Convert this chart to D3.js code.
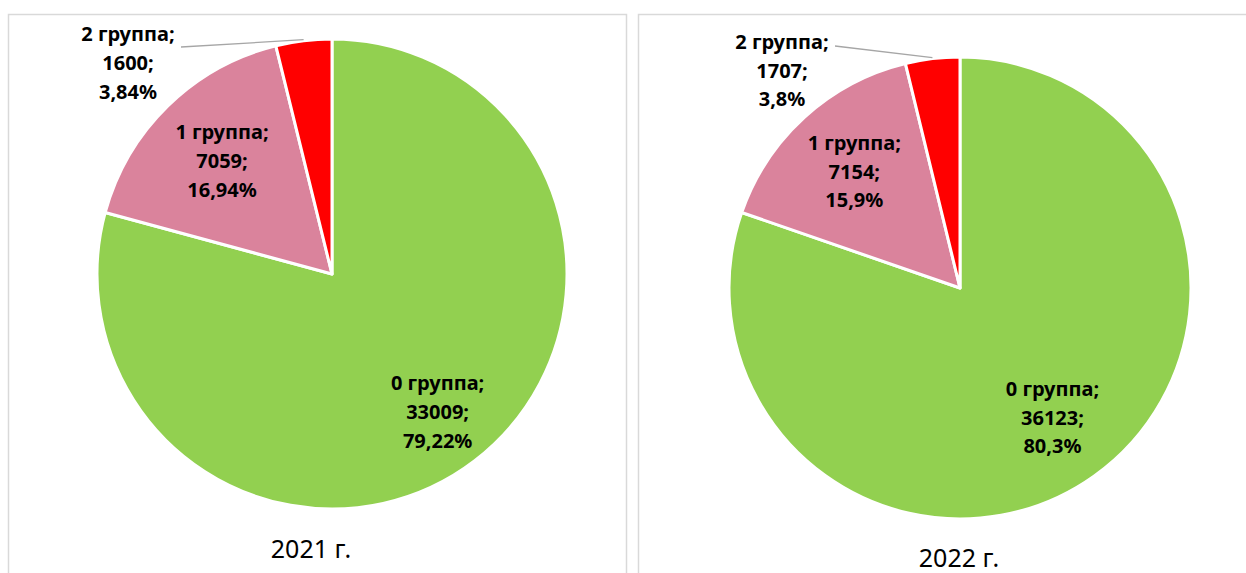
<!DOCTYPE html>
<html><head><meta charset="utf-8">
<script src="https://cdn.jsdelivr.net/npm/d3@7"></script>
<style>
html,body{margin:0;padding:0;background:#fff;}
svg{display:block;}
text{font-family:"Noto Sans","Open Sans",sans-serif;}
</style></head>
<body>
<svg id="c" width="1246" height="573"></svg>
<script>
const categories = ["0 группа", "1 группа", "2 группа"];
const values2021 = [33009, 7059, 1600];
const values2022 = [36123, 7154, 1707];
const pct2021 = ["79,22%", "16,94%", "3,84%"];
const pct2022 = ["80,3%", "15,9%", "3,8%"];
const years = ["2021 г.", "2022 г."];

const colors = d3.scaleOrdinal().domain(categories).range(["#92D050", "#DA839C", "#FF0000"]);
const svg = d3.select("#c");

// panel frames
const panels = [
  {x: 8, y: 14, w: 618, h: 600},
  {x: 638, y: 14, w: 640, h: 600}
];
svg.selectAll("rect.panel").data(panels).join("rect")
  .attr("class", "panel")
  .attr("x", d => d.x + 0.5).attr("y", d => d.y + 0.5)
  .attr("width", d => d.w).attr("height", d => d.h)
  .attr("fill", "none").attr("stroke", "#D9D9D9").attr("stroke-width", 1.5);

const charts = [
  {values: values2021, pcts: pct2021, title: years[0], cx: 332, cy: 274, r: 235, lr: [0.74, 0.67],
   lineGap: 29, titleX: 311, titleY: 549, outLabel: [128, 34], leadStart: [181, 47]},
  {values: values2022, pcts: pct2022, title: years[1], cx: 960, cy: 288, r: 231, lr: [0.69, 0.68],
   lineGap: 28.5, titleX: 959, titleY: 558, outLabel: [782, 42], leadStart: [835, 46]}
];

const pie = d3.pie().sort(null).value(d => d.value);

charts.forEach(ch => {
  const data = categories.map((c, i) => ({cat: c, value: ch.values[i], pct: ch.pcts[i]}));
  const arcs = pie(data);
  const g = svg.append("g").attr("transform", `translate(${ch.cx},${ch.cy})`);
  const arc = d3.arc().innerRadius(0).outerRadius(ch.r);
  const edgeArc = d3.arc().innerRadius(ch.r + 1).outerRadius(ch.r + 1);

  g.selectAll("path.slice").data(arcs).join("path")
    .attr("class", "slice")
    .attr("d", arc)
    .attr("fill", d => colors(d.data.cat))
    .attr("stroke", "#fff").attr("stroke-width", 3).attr("stroke-linejoin", "round");

  arcs.forEach((a, i) => {
    const lines = [a.data.cat + ";", a.data.value + ";", a.data.pct];
    let x, y;
    if (i === arcs.length - 1) {
      // outside label with leader line
      x = ch.outLabel[0] - ch.cx; y = ch.outLabel[1] - ch.cy;
      const e = edgeArc.centroid(a);
      g.append("line")
        .attr("x1", ch.leadStart[0] - ch.cx).attr("y1", ch.leadStart[1] - ch.cy)
        .attr("x2", e[0]).attr("y2", e[1])
        .attr("stroke", "#A6A6A6").attr("stroke-width", 1.3);
    } else {
      const rr = ch.r * ch.lr[i];
      const c = d3.arc().innerRadius(rr).outerRadius(rr).centroid(a);
      x = c[0]; y = c[1] - ch.lineGap;
    }
    const t = g.append("text")
      .attr("text-anchor", "middle")
      .attr("font-weight", "bold").attr("font-size", 20).attr("fill", "#000");
    lines.forEach((ln, k) => {
      t.append("tspan").attr("x", x).attr("y", y + k * ch.lineGap).attr("dy", "0.35em").text(ln);
    });
  });

  svg.append("text")
    .attr("x", ch.titleX).attr("y", ch.titleY)
    .attr("text-anchor", "middle").attr("dy", "0.35em")
    .attr("font-size", 25).attr("fill", "#000")
    .text(ch.title);
});
</script>
</body></html>
